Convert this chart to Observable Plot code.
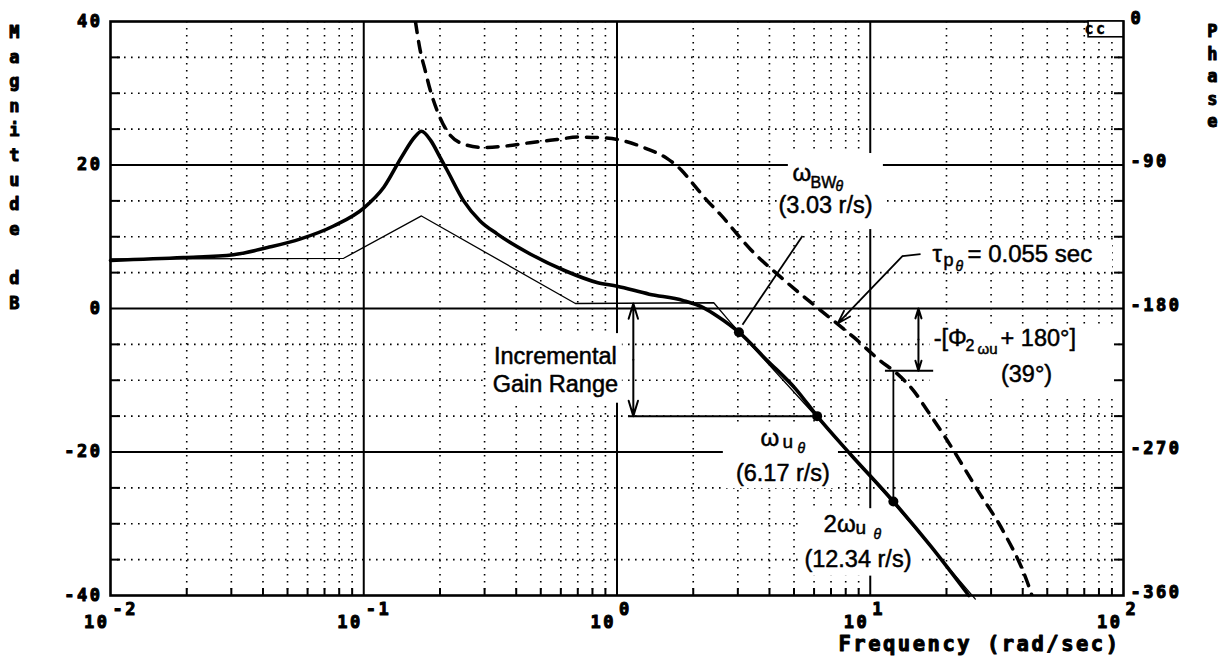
<!DOCTYPE html>
<html>
<head>
<meta charset="utf-8">
<script src="https://cdn.jsdelivr.net/npm/d3@7"></script>
<script src="https://cdn.jsdelivr.net/npm/@observablehq/plot@0.6"></script>
<style>
  body { margin: 0; background: #fff; }
  [font-family="DejaVu Sans Mono"] { letter-spacing: 2.5px; }
</style>
</head>
<body>
<div id="chart"></div>
<script>
// ---------- data ----------
// closed-loop magnitude (thick solid), dB
const magFreq = [0.01, 0.0194, 0.0306, 0.0417, 0.0563, 0.076, 0.1, 0.12, 0.141, 0.159, 0.169, 0.184, 0.2, 0.214, 0.248, 0.288, 0.336, 0.454, 0.62, 0.84, 1.0, 1.34, 1.83, 2.2, 2.5, 3.03, 3.88, 5.1, 6.17, 8.3, 12.34, 17.4, 24.5];
const magDb   = [6.7, 7.1, 7.5, 8.5, 9.7, 11.5, 14.0, 16.9, 21.1, 23.9, 24.7, 23.4, 21.1, 19.2, 15.0, 12.2, 10.4, 7.6, 5.3, 3.6, 3.1, 2.0, 1.1, 0.1, -1.1, -3.3, -7.1, -11.3, -15.0, -20.2, -26.9, -33.2, -40.0];
// straight-line asymptote (thin solid), dB
const asymFreq = [0.01, 0.0833, 0.169, 0.685, 2.41, 2.8, 6.17, 12.34, 26];
const asymDb   = [6.9, 7.0, 12.9, 0.7, 0.8, -1.9, -15.2, -27.1, -40.5];
// phase (thick dashed), degrees
const phaseFreq = [0.16, 0.167, 0.175, 0.183, 0.195, 0.21, 0.24, 0.294, 0.368, 0.454, 0.58, 0.70, 0.89, 1.07, 1.32, 1.58, 1.79, 2.0, 2.26, 2.56, 3.37, 4.56, 6.35, 8.6, 11.0, 12.8, 14.9, 16.8, 20.0, 26.8, 33.6, 41.8, 43.5];
const phaseDeg  = [0, -18, -31, -43, -56, -67, -76, -79, -78, -76, -74, -72.5, -73, -75, -80, -86, -93, -102, -112, -121, -143, -162, -181, -198, -213, -221, -232, -244, -262, -295, -320, -352, -360];
// marked frequencies (r/s)
const markerFreq = [3.03, 6.17, 12.34];
// axes
const decadeTicks = [0.01, 0.1, 1, 10, 100];
const decadeExp = ["-2", "-1", "0", "1", "2"];
const magTicks = [40, 20, 0, -20, -40];
const phaseTicks = [0, -90, -180, -270, -360];
const phaseMargin = 39;          // degrees, at 2*omega_u
const asymFlatDb = asymDb[3];    // asymptote level used for incremental gain range

// ---------- derived tables ----------
const mag = magFreq.map((f, i) => ({f, db: magDb[i]}));
const asym = asymFreq.map((f, i) => ({f, db: asymDb[i]}));
const phase = phaseFreq.map((f, i) => ({f, p: phaseDeg[i]}));
const ph = p => 40 + p * 80 / 360;           // phase axis (0..-360) onto dB axis (40..-40)
const magAt = f => magDb[magFreq.indexOf(f)];
const markers = markerFreq.map(f => ({f, db: magAt(f)}));

const majorX = [0.1, 1, 10];
const minorX = [];
for (const d of [0.01, 0.1, 1, 10]) for (let k = 2; k <= 9; k++) minorX.push(d * k);
const majorY = [20, 0, -20];
const minorY = d3.range(-35, 40, 5).filter(v => v % 20 !== 0);

const gmTop = ph(-180), gmBot = ph(-180 - phaseMargin);
const omegaU = markerFreq[1], twoOmegaU = markerFreq[2];

// ---------- annotation layout (data units) ----------
const labelBoxes = [
  {x1: 4.75, x2: 11.27, y1: 11.0, y2: 21.6},
  {x1: 17.0, x2: 90.5, y1: 5.1, y2: 9.5},
  {x1: 17.2, x2: 96, y1: -12.0, y2: -2.5},
  {x1: 2.63, x2: 7.49, y1: -25.1, y2: -16.0},
  {x1: 5.30, x2: 15.4, y1: -37.3, y2: -27.9},
  {x1: 0.31, x2: 1.05, y1: -13.2, y2: -3.5}
];
const startTexts = [
  {f: 4.93, y: 17.74, t: "ω", s: 24},
  {f: 5.81, y: 16.77, t: "BW", s: 16},
  {f: 17.6, y: 6.45, t: "τ", s: 24},
  {f: 19.46, y: 5.9, t: "p", s: 18},
  {f: 24.2, y: 6.45, t: "= 0.055 sec", s: 24},
  {f: 17.8, y: -5.28, t: "-[Φ", s: 23.5},
  {f: 23.8, y: -5.98, t: "2", s: 16},
  {f: 26.5, y: -6.4, t: "ωu", s: 15},
  {f: 32.7, y: -5.28, t: "+ 180°]", s: 23.5},
  {f: 3.69, y: -19.23, t: "ω", s: 24},
  {f: 4.50, y: -19.5, t: "u", s: 19},
  {f: 6.54, y: -31.15, t: "2ω", s: 24},
  {f: 8.74, y: -31.4, t: "u", s: 19}
];
const thetaSubs = [
  {f: 7.29, y: 16.35}, {f: 21.7, y: 5.2}, {f: 5.16, y: -20.2}, {f: 10.3, y: -32.1}
];
const midTexts = [
  {f: 6.66, y: 13.27, t: "(3.03 r/s)"},
  {f: 41.4, y: -10.3, t: "(39°)"},
  {f: 0.571, y: -11.57, t: "Incremental\nGain Range"},
  {f: 4.52, y: -24.1, t: "(6.17 r/s)"},
  {f: 8.94, y: -36.0, t: "(12.34 r/s)"}
];

const mono = "DejaVu Sans Mono";
const sans = "Liberation Sans";
const monoStyle = {fontFamily: mono, fontWeight: "bold", fontSize: 17, fill: "#000", stroke: "#000", strokeWidth: 1};
const sansInk = {fontFamily: sans, fill: "#000", stroke: "#000", strokeWidth: 0.5};
const dotted = {stroke: "#000", strokeWidth: 1.6, strokeDasharray: "1.6,5.4"};
const arrowStyle = {strokeWidth: 2, headLength: 12, headAngle: 34};

const chart = Plot.plot({
  width: 1228,
  height: 665,
  marginLeft: 110,
  marginRight: 105,
  marginTop: 21,
  marginBottom: 70,
  style: {background: "#fff", color: "#000"},
  x: {type: "log", domain: [0.01, 100], axis: null},
  y: {domain: [-40, 40], axis: null},
  marks: [
    // grid
    Plot.ruleX(minorX, dotted),
    Plot.ruleY(minorY, dotted),
    Plot.ruleX(majorX, {stroke: "#000", strokeWidth: 2}),
    Plot.ruleY(majorY, {stroke: "#000", strokeWidth: 2}),
    // white backgrounds behind annotations
    Plot.rect(labelBoxes, {x1: "x1", x2: "x2", y1: "y1", y2: "y2", fill: "#fff"}),
    // inward ticks
    Plot.axisY({anchor: "left", ticks: minorY, tickSize: 10, dx: 10, tickFormat: () => "", label: null, strokeWidth: 2}),
    Plot.axisY({anchor: "right", ticks: minorY, tickSize: 10, dx: -10, tickFormat: () => "", label: null, strokeWidth: 2}),
    Plot.axisX({anchor: "bottom", ticks: minorX, tickSize: 7, dy: -7, tickFormat: () => "", label: null, strokeWidth: 2}),
    Plot.frame({stroke: "#000", strokeWidth: 2.6}),
    // curves
    Plot.line(asym, {x: "f", y: "db", stroke: "#000", strokeWidth: 1.3}),
    Plot.line(phase, {x: "f", y: d => ph(d.p), stroke: "#000", strokeWidth: 3.5, strokeDasharray: "11,9", curve: "monotone-x", clip: true}),
    Plot.line(mag, {x: "f", y: "db", stroke: "#000", strokeWidth: 3.6, curve: "monotone-x"}),
    Plot.dot(markers, {x: "f", y: "db", r: 5, fill: "#000"}),
    // leader lines and brackets
    Plot.link([{x1: 5.40, y1: 10.1, x2: 3.13, y2: -2.26}], {x1: "x1", y1: "y1", x2: "x2", y2: "y2", strokeWidth: 1.8}),
    Plot.link([{x1: 15.8, y1: 7.58, x2: 13.4, y2: 7.3}], {x1: "x1", y1: "y1", x2: "x2", y2: "y2", strokeWidth: 1.8}),
    Plot.arrow([{x1: 13.4, y1: 7.3, x2: 7.43, y2: -2.1}], {x1: "x1", y1: "y1", x2: "x2", y2: "y2", ...arrowStyle, strokeWidth: 1.8}),
    Plot.arrow([{y2: gmTop}, {y2: gmBot}], {x1: 15.5, x2: 15.5, y1: (gmTop + gmBot) / 2, y2: "y2", ...arrowStyle}),
    Plot.ruleY([gmBot], {x1: 11.48, x2: 17.8, strokeWidth: 2}),
    Plot.ruleX([twoOmegaU], {y1: gmBot, y2: magAt(twoOmegaU), strokeWidth: 1.8}),
    Plot.arrow([{y2: asymFlatDb}, {y2: magAt(omegaU)}], {x1: 1.16, x2: 1.16, y1: (asymFlatDb + magAt(omegaU)) / 2, y2: "y2", ...arrowStyle}),
    Plot.ruleY([magAt(omegaU)], {x1: 1.11, x2: omegaU, strokeWidth: 2}),
    // annotation text
    Plot.text(startTexts, {x: "f", y: "y", text: "t", fontSize: "s", textAnchor: "start", lineAnchor: "bottom", ...sansInk}),
    Plot.text(thetaSubs, {x: "f", y: "y", text: () => "θ", fontSize: 14, fontStyle: "italic", textAnchor: "start", lineAnchor: "bottom", ...sansInk}),
    Plot.text(midTexts, {x: "f", y: "y", text: "t", fontSize: 23.5, textAnchor: "middle", lineAnchor: "bottom", lineHeight: 1.19, ...sansInk}),
    // "cc" tag
    Plot.rect([{x1: 72.8, x2: 100, y1: 37.8, y2: 40}], {x1: "x1", x2: "x2", y1: "y1", y2: "y2", fill: "#fff", stroke: "#000", strokeWidth: 1.6}),
    Plot.text(["cc"], {frameAnchor: "top-right", dx: -16, dy: 8, lineAnchor: "middle", ...monoStyle, fontSize: 15, strokeWidth: 0.4}),
    // tick labels
    Plot.text(magTicks, {y: d => d, frameAnchor: "left", dx: -8, textAnchor: "end", lineAnchor: "middle", text: d => String(d), ...monoStyle}),
    Plot.text(phaseTicks, {y: d => ph(d), frameAnchor: "right", dx: 7, dy: -3, textAnchor: "start", lineAnchor: "middle", text: d => String(d), ...monoStyle}),
    Plot.text(decadeTicks, {x: d => d, frameAnchor: "bottom", dy: 27, dx: -1, textAnchor: "end", lineAnchor: "middle", text: () => "10", ...monoStyle}),
    Plot.text(decadeTicks, {x: d => d, frameAnchor: "bottom", dy: 14, dx: 2, textAnchor: "start", lineAnchor: "middle", text: (d, i) => decadeExp[i], ...monoStyle}),
    // axis titles
    Plot.text([0], {frameAnchor: "top-left", dx: -95, dy: -1, lineAnchor: "top", textAnchor: "middle", lineHeight: 1.447, text: () => "M\na\ng\nn\ni\nt\nu\nd\ne\n\nd\nB", ...monoStyle}),
    Plot.text([0], {frameAnchor: "top-right", dx: 90, dy: 0, lineAnchor: "top", textAnchor: "middle", lineHeight: 1.32, text: () => "P\nh\na\ns\ne", ...monoStyle}),
    Plot.text(["Frequency (rad/sec)"], {frameAnchor: "bottom-right", dx: -3, dy: 49, textAnchor: "end", lineAnchor: "middle", ...monoStyle, fontSize: 20.5})
  ]
});
document.getElementById("chart").appendChild(chart);
</script>
</body>
</html>
